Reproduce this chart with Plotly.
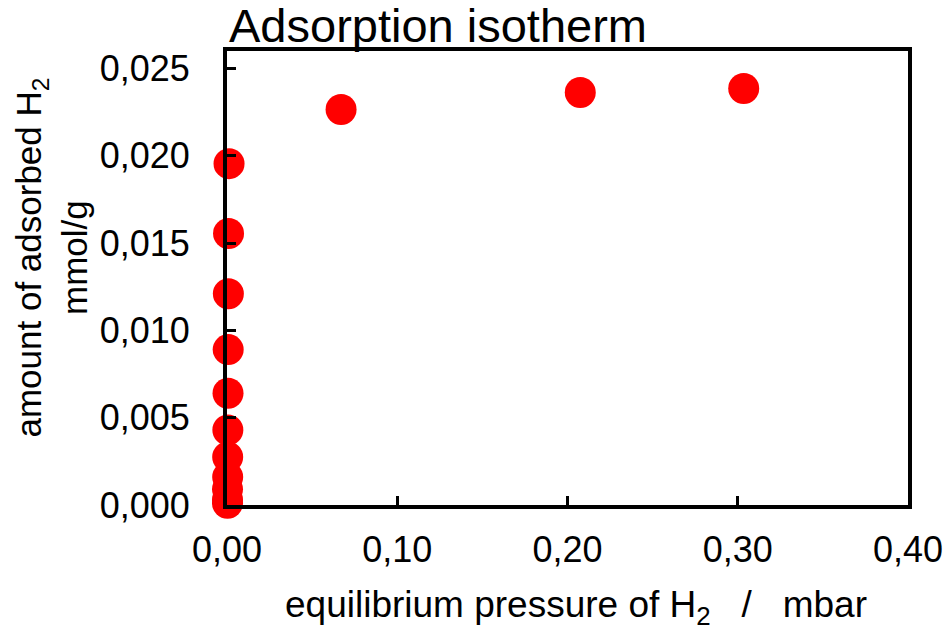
import plotly.graph_objects as go

pressure = [0.0003, 0.0003, 0.0003, 0.0004, 0.0004, 0.0005, 0.0006, 0.0007, 0.0008, 0.0009, 0.0012,
            0.067, 0.2075, 0.3035]
adsorbed = [0.0001, 0.0003, 0.0009, 0.0016, 0.00275, 0.0043, 0.0064, 0.0089, 0.0121, 0.01555, 0.01955,
            0.02265, 0.02362, 0.02385]

x_range = [0, 0.40]
y_range = [0, 0.026]
x_ticks = [0.0, 0.1, 0.2, 0.3, 0.4]
y_ticks = [0.0, 0.005, 0.010, 0.015, 0.020, 0.025]

title_text = "Adsorption isotherm"
x_title = "equilibrium pressure of H<sub>2</sub>\u00a0\u00a0\u00a0/\u00a0\u00a0\u00a0mbar"
y_title = "amount of adsorbed H<sub>2</sub><br>mmol/g"

FONT = "Liberation Sans, Arial, sans-serif"

fig = go.Figure()
fig.add_trace(go.Scatter(
    x=pressure, y=adsorbed, mode="markers",
    marker=dict(color="#FF0000", size=31, line=dict(width=0)),
    cliponaxis=False, showlegend=False,
))

axis_common = dict(
    showline=True, linecolor="black", linewidth=4, mirror=True,
    ticks="inside", ticklen=9, tickwidth=3, tickcolor="black",
    showgrid=False, zeroline=False, automargin=False,
    ticklabeloverflow="allow",
    tickfont=dict(family=FONT, size=36, color="black"),
)

fig.update_xaxes(range=x_range, tickvals=x_ticks, tickformat=".2f",
                 ticklabelstandoff=10, **axis_common)
fig.update_yaxes(range=y_range, tickvals=y_ticks, tickformat=".3f",
                 ticklabelstandoff=26, **axis_common)

fig.add_annotation(text=title_text, xref="paper", yref="paper", x=0, y=1,
                   xanchor="left", yanchor="bottom", yshift=-3, showarrow=False,
                   font=dict(family=FONT, size=47, color="black"))
fig.add_annotation(text=x_title, xref="paper", yref="paper", x=0.5125, y=-0.225,
                   xanchor="center", yanchor="middle", showarrow=False,
                   font=dict(family=FONT, size=37, color="black"))
fig.add_annotation(text=y_title, xref="paper", yref="paper", x=-0.257, y=0.545,
                   xanchor="center", yanchor="middle", textangle=-90, showarrow=False,
                   font=dict(family=FONT, size=35, color="black"))

fig.update_layout(
    width=943, height=635,
    margin=dict(l=227, r=35, t=51, b=130),
    paper_bgcolor="white", plot_bgcolor="white",
    separators=",.",
    font=dict(family=FONT, color="black"),
)

fig.write_html("out.html")
